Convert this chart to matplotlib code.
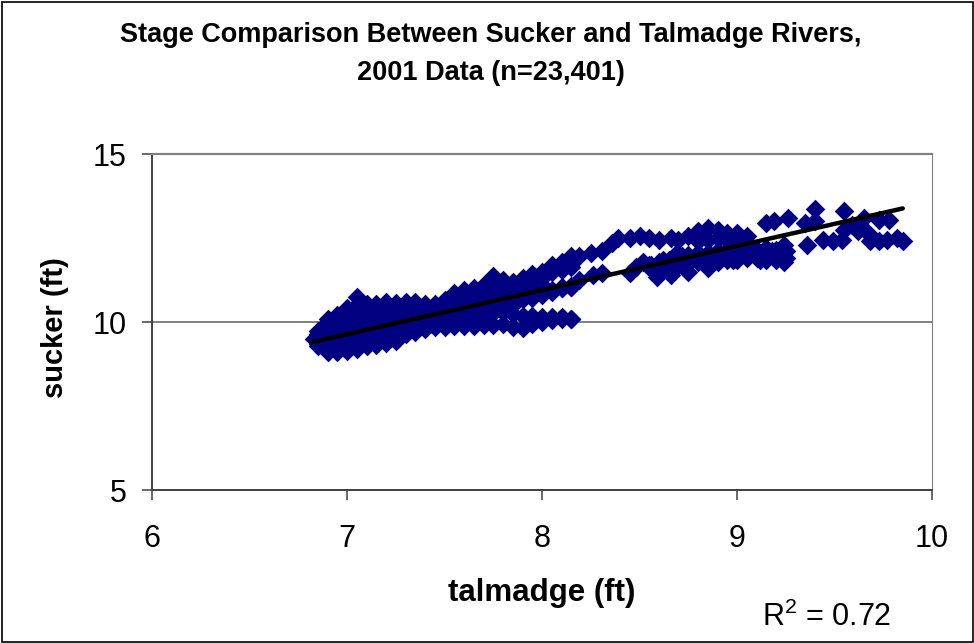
import matplotlib
matplotlib.use("Agg")
import matplotlib.pyplot as plt

plt.rcParams['font.family'] = ['Liberation Sans', 'DejaVu Sans']
plt.rcParams['mathtext.default'] = 'regular'

title_lines = "Stage Comparison Between Sucker and Talmadge Rivers,\n2001 Data (n=23,401)"
x_label = "talmadge (ft)"
y_label = "sucker (ft)"
r2_label = "R$^{2}$ = 0.72"
x_ticks = [6, 7, 8, 9, 10]
y_ticks = [5, 10, 15]

# Dense low-stage cloud, traced as tracks
grid_x = [6.85, 6.90, 6.95, 7.00, 7.05, 7.10, 7.15, 7.20, 7.25, 7.30, 7.35, 7.40, 7.45, 7.50,
          7.55, 7.60, 7.65, 7.70, 7.75, 7.80, 7.85, 7.90, 7.95, 8.00, 8.05, 8.10, 8.15]
track_top = [9.72, 10.10, 10.20, 10.42, 10.74, 10.55, 10.55, 10.60, 10.58, 10.60, 10.60, 10.55, 10.55, 10.65,
             10.85, 10.95, 11.00, 11.10, 11.38, 11.25, 11.20, 11.30, 11.42, 11.50, 11.70, 11.80, 11.95]
track_2 = [9.65, 10.00, 10.05, 10.22, 10.50, 10.38, 10.38, 10.42, 10.42, 10.45, 10.45, 10.42, 10.45, 10.52,
           10.72, 10.80, 10.85, 10.95, 11.10, 11.10, 11.08, 11.15, 11.22, 11.32, 11.48, 11.55, 11.65]
track_3 = [9.58, 9.80, 9.85, 10.00, 10.25, 10.20, 10.20, 10.22, 10.22, 10.25, 10.28, 10.28, 10.30, 10.38,
           10.52, 10.60, 10.65, 10.75, 10.88, 10.92, 10.92, 10.95, 11.00, 11.10, 10.95, 11.05, 11.08]
track_4 = [9.50, 9.62, 9.65, 9.80, 10.00, 10.00, 10.00, 10.02, 10.02, 10.08, 10.12, 10.12, 10.15, 10.22,
           10.32, 10.42, 10.48, 10.58, 10.68, 10.72, 10.72, 10.75, 10.80, 10.90, 10.92, 11.00, 11.05]
track_5 = [9.42, 9.45, 9.48, 9.60, 9.78, 9.80, 9.82, 9.85, 9.88, 9.92, 9.95, 9.98, 10.02, 10.08,
           10.15, 10.22, 10.28, 10.38, 10.48, 10.52, 10.52, 10.68, 10.72, 10.80, 10.90, 11.00, 11.05]
track_6 = [9.35, 9.28, 9.30, 9.38, 9.50, 9.55, 9.60, 9.65, 9.70, 9.75, 9.78, 9.82, 9.88, 9.92,
           9.98, 10.05, 10.10, 10.18, 10.28, 10.30, 10.25, 10.18, 10.18, 10.15, 10.15, 10.15, 10.10]
track_bottom = [9.28, 9.10, 9.12, 9.15, 9.20, 9.28, 9.32, 9.38, 9.42, 9.65, 9.70, 9.80, 9.85, 9.85,
                9.87, 9.88, 9.88, 9.90, 9.90, 9.95, 9.85, 9.82, 9.95, 10.00, 10.05, 10.08, 10.08]

# Sparse high-stage points
left_tip_x = [6.83]
left_tip_y = [9.50]
upper_x = [8.19, 8.25, 8.31, 8.36, 8.39, 8.45, 8.50, 8.55, 8.60, 8.66, 8.70, 8.75, 8.80, 8.85, 8.90,
           8.95, 9.00, 9.05]
upper_y = [11.95, 12.05, 12.10, 12.35, 12.50, 12.50, 12.55, 12.50, 12.45, 12.50, 12.45, 12.55, 12.70, 12.80, 12.75,
           12.65, 12.65, 12.55]
upper_row2_x = [8.80, 8.85, 8.90, 8.95, 9.00, 9.05]
upper_row2_y = [12.40, 12.45, 12.50, 12.45, 12.40, 12.35]
lower_x = [8.19, 8.26, 8.31, 8.45, 8.48, 8.52, 8.56, 8.59, 8.62, 8.66, 8.69, 8.72, 8.75, 8.80, 8.85,
           8.90, 8.98, 9.02, 9.07, 9.12, 9.15, 9.18, 9.24]
lower_y = [11.25, 11.40, 11.45, 11.45, 11.65, 11.80, 11.70, 11.35, 11.85, 11.40, 12.05, 11.95, 11.50, 12.05, 11.60,
           12.10, 11.85, 12.15, 12.05, 11.85, 12.00, 12.10, 11.80]
band_x = [8.55, 8.60, 8.65, 8.70, 8.75, 8.80, 8.85, 8.90, 8.95, 9.00, 9.05, 9.10, 9.15, 9.20, 9.25]
band_a = [11.70, 11.80, 11.85, 11.95, 12.00, 12.00, 12.05, 12.10, 12.10, 12.15, 12.15, 12.15, 12.20, 12.15, 12.10]
band_b = [11.65, 11.60, 11.55, 11.70, 11.75, 11.80, 11.75, 11.80, 11.85, 11.85, 11.90, 11.90, 11.85, 11.85, 11.90]
high_x = [9.15, 9.19, 9.24, 9.26, 9.35, 9.36, 9.40, 9.40, 9.44, 9.49, 9.54, 9.55, 9.55, 9.59, 9.62,
          9.65, 9.67, 9.68, 9.73, 9.73, 9.77, 9.78, 9.82, 9.85]
high_y = [12.95, 13.00, 12.30, 13.10, 12.95, 12.30, 13.35, 13.00, 12.45, 12.40, 12.45, 13.30, 12.75, 12.90, 12.70,
          13.10, 12.65, 12.40, 13.05, 12.40, 12.45, 13.05, 12.50, 12.40]

fit_x = [6.82, 9.85]
fit_y = [9.40, 13.38]

fig = plt.figure(figsize=(9.74, 6.43), dpi=100)
W, H = 974, 643
ax = fig.add_axes([152 / W, 1 - 490 / H, 780 / W, 336 / H])

for track in (track_bottom, track_6, track_5, track_4, track_3, track_2, track_top):
    ax.scatter(grid_x, track, marker='D', s=100, color='#000080', linewidths=0, zorder=3)
for xs, ys in ((left_tip_x, left_tip_y), (upper_x, upper_y), (upper_row2_x, upper_row2_y), (lower_x, lower_y),
               (band_x, band_a), (band_x, band_b), (high_x, high_y)):
    ax.scatter(xs, ys, marker='D', s=100, color='#000080', linewidths=0, zorder=3)
ax.plot(fit_x, fit_y, color='black', lw=3.2, solid_capstyle='round', zorder=4)

ax.set_xlim(6, 10)
ax.set_ylim(5, 15)
ax.set_xticks(x_ticks)
ax.set_yticks(y_ticks)
ax.yaxis.grid(True, color='#808080', lw=1.4, zorder=1)
ax.set_axisbelow(True)
ax.tick_params(axis='both', labelsize=22, length=7.5, width=1.1, color='#404040', direction='out')
ax.tick_params(axis='x', pad=17)
ax.tick_params(axis='y', pad=11)
ax.spines['top'].set_color('#808080')
ax.spines['top'].set_linewidth(1.6)
ax.spines['right'].set_color('#808080')
ax.spines['left'].set_color('#404040')
ax.spines['bottom'].set_color('#404040')
ax.spines['left'].set_linewidth(1.4)
ax.spines['bottom'].set_linewidth(1.4)

fig.text(491 / W, 1 - 54 / H, title_lines, ha='center', va='center', fontsize=19.5, fontweight='bold', linespacing=1.6)
fig.text(542 / W, 1 - 593 / H, x_label, ha='center', va='center', fontsize=22.5, fontweight='bold')
fig.text(55 / W, 1 - 328 / H, y_label, ha='center', va='center', rotation=90, fontsize=21, fontweight='bold')
fig.text(827 / W, 1 - 617 / H, r2_label, ha='center', va='center', fontsize=22)

fig.add_artist(plt.Rectangle((1.5 / W, 1.5 / H), 971 / W, 640 / H, fill=False, ec='black', lw=1.2,
                             transform=fig.transFigure))
fig.savefig("out.png", dpi=100)
